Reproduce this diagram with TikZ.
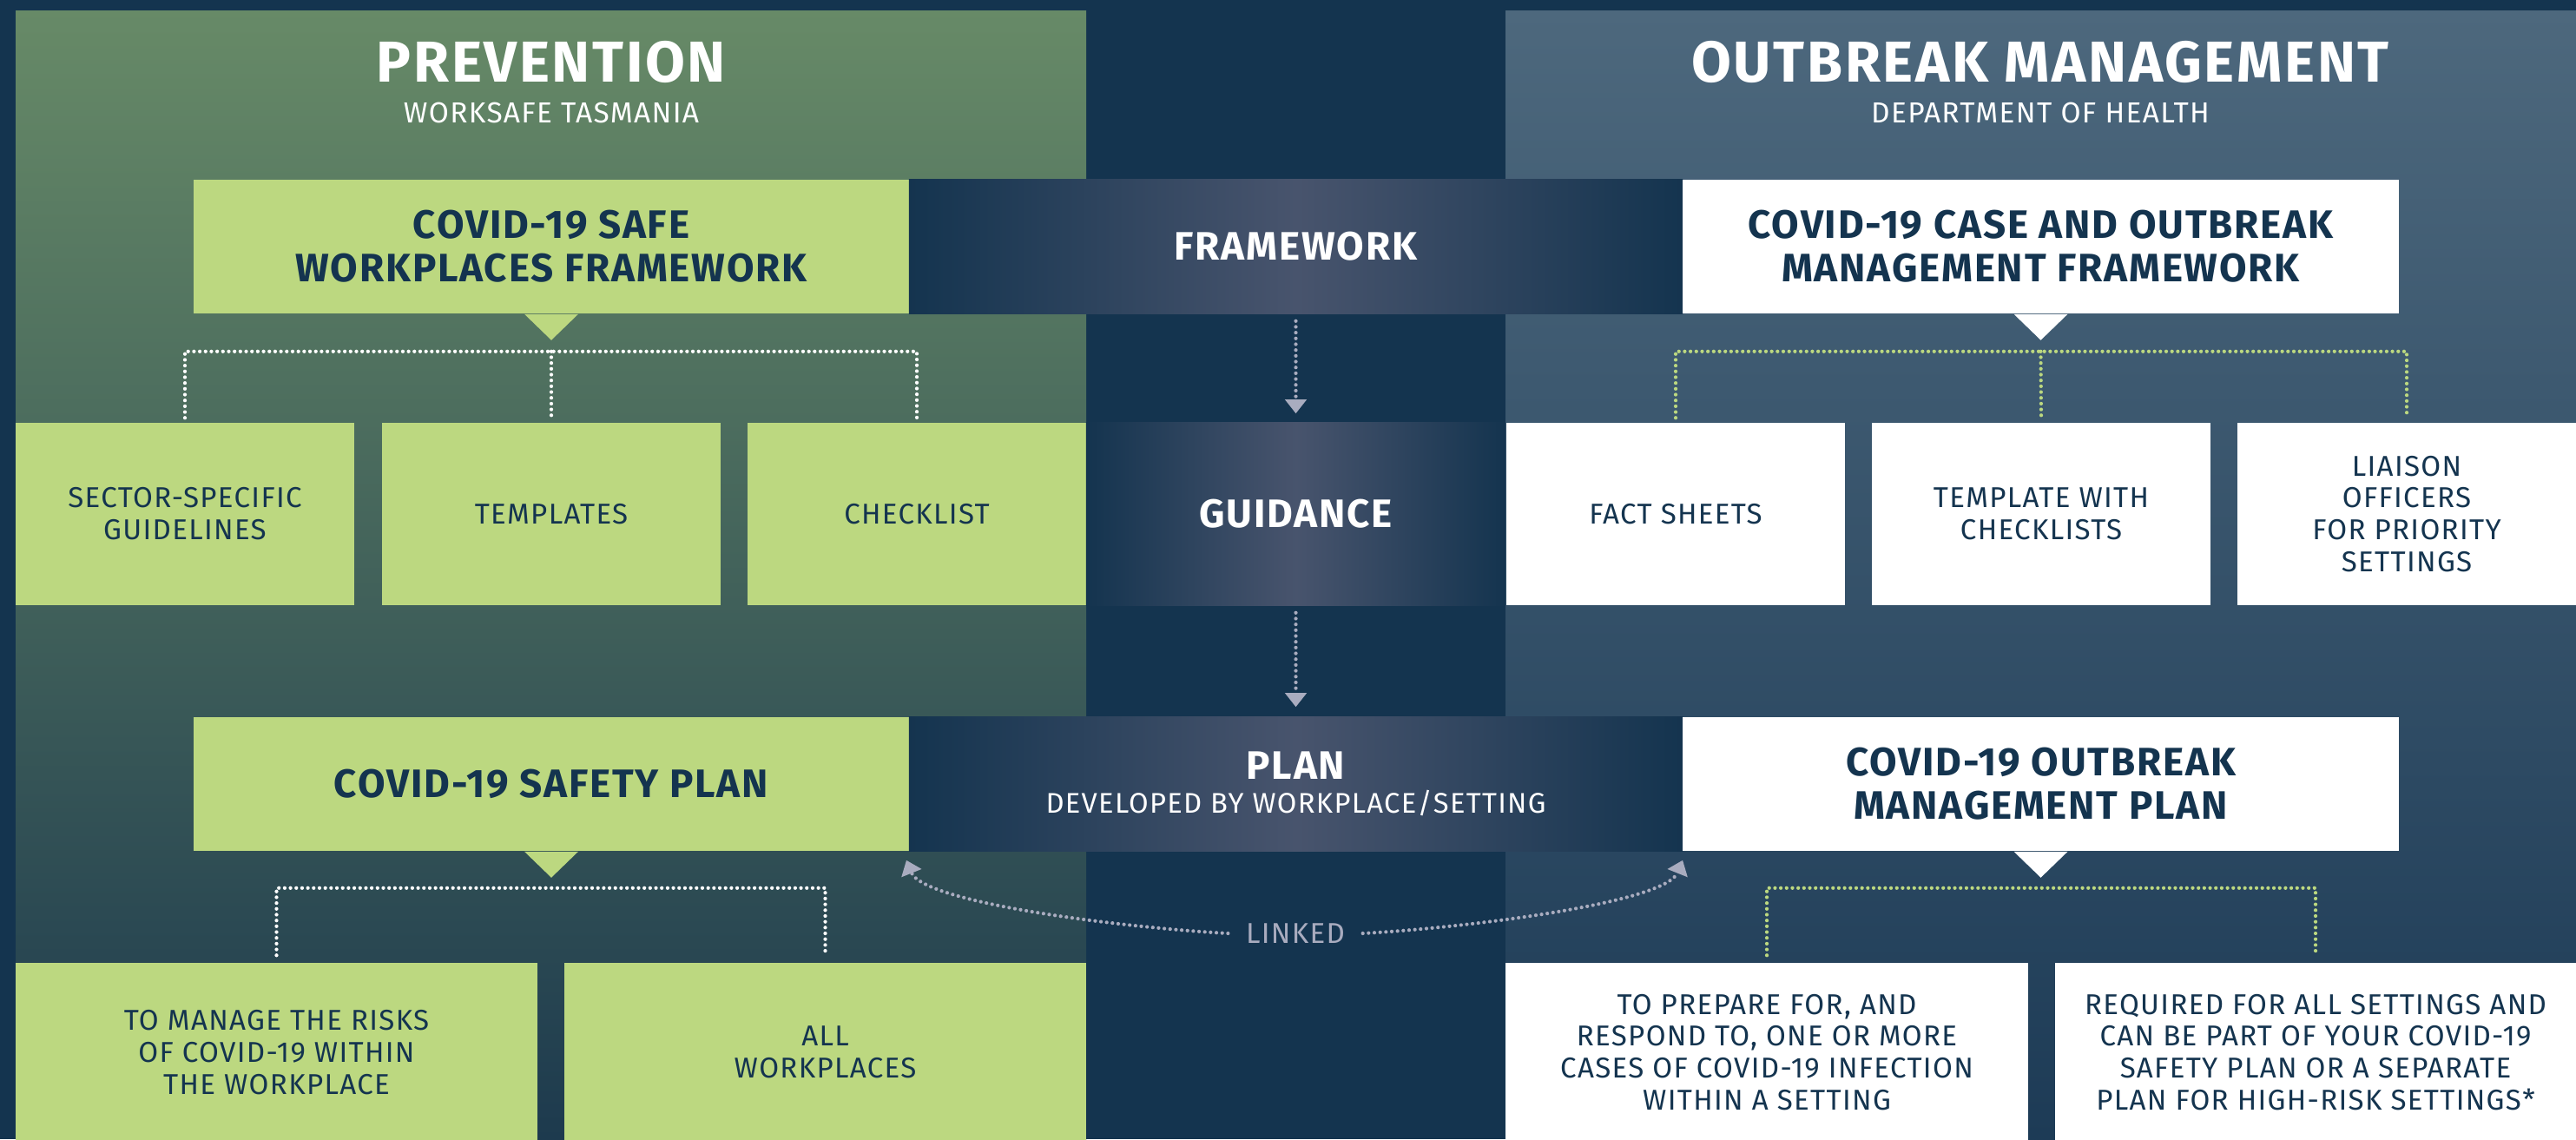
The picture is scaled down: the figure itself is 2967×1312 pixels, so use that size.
\documentclass[tikz,border=0pt]{standalone}
\usepackage{fontspec}
\setmainfont{Fira Sans}[LetterSpace=4]
\usetikzlibrary{arrows.meta}

\definecolor{navy}{HTML}{14344F}
\definecolor{lime}{HTML}{BCD880}
\definecolor{slate}{HTML}{48546D}
\definecolor{arrowgray}{HTML}{A9ACBF}
\definecolor{lefttop}{HTML}{678A67}
\definecolor{leftbot}{HTML}{1D3A4E}
\definecolor{righttop}{HTML}{4D687D}
\definecolor{rightbot}{HTML}{1D3B56}

\newcommand{\subfont}{\mdseries\fontsize{9.3}{10}\selectfont}

\tikzset{
  paneltitle/.style={anchor=base,inner sep=0pt,text=white,font=\bfseries\fontsize{18.9}{21}\selectfont},
  panelsub/.style={anchor=base,inner sep=0pt,text=white,font=\fontsize{9.5}{11}\selectfont},
  titlebox/.style={inner sep=0pt,align=center,minimum height=1.54cm,font=\bfseries\fontsize{13}{14.2}\selectfont},
  itembox/.style={inner sep=0pt,align=center,minimum width=3.9cm,minimum height=2.1cm,font=\fontsize{9.4}{10.5}\selectfont},
  greenbox/.style={fill=lime,text=navy},
  whitebox/.style={fill=white,text=navy},
  band/.style={left color=navy,right color=navy,middle color=slate,text=white},
  dots/.style={line width=1.2pt,line cap=round,dash pattern=on 0pt off 1.9pt},
  wdots/.style={dots,draw=white},
  gdots/.style={dots,draw=lime},
  flow/.style={dots,draw=arrowgray,-{Triangle[length=0.16cm,width=0.24cm]}},
}

\begin{document}
\begin{tikzpicture}[x=0.01cm,y=-0.01cm]
% Background and panels
\useasboundingbox (0,0) rectangle (2967,1312);
\fill[navy] (0,0) rectangle (2967,1312);
\shade[top color=lefttop,bottom color=leftbot] (18,12) rectangle (1251,1312);
\shade[top color=righttop,bottom color=rightbot] (1734,12) rectangle (2967,1312);

% Panel titles
\node[paneltitle] (prevt) at (635,94) {PREVENTION};
\node[panelsub] (prevs) at (635,141) {WORKSAFE TASMANIA};
\node[paneltitle] (outt) at (2350,94) {OUTBREAK MANAGEMENT};
\node[panelsub] (outs) at (2350,141) {DEPARTMENT OF HEALTH};

% Framework row
\node[titlebox,greenbox,minimum width=8.24cm] (sfw) at (635,284) {COVID-19 SAFE\\WORKPLACES FRAMEWORK};
\node[titlebox,band,minimum width=8.91cm] (fw) at (1492.5,284) {FRAMEWORK};
\node[titlebox,whitebox,minimum width=8.25cm] (cof) at (2350.5,284) {COVID-19 CASE AND OUTBREAK\\MANAGEMENT FRAMEWORK};

% Guidance row
\node[itembox,greenbox] (sec) at (213,592) {SECTOR-SPECIFIC\\GUIDELINES};
\node[itembox,greenbox] (tpl) at (635,592) {TEMPLATES};
\node[itembox,greenbox] (chk) at (1056,592) {CHECKLIST};
\node[titlebox,band,minimum width=4.83cm,minimum height=2.1cm] (gd) at (1492.5,592) {GUIDANCE};
\node[itembox,whitebox] (fs) at (1930,592) {FACT SHEETS};
\node[itembox,whitebox] (twc) at (2351,592) {TEMPLATE WITH\\CHECKLISTS};
\node[itembox,whitebox] (lo) at (2772,592) {LIAISON\\OFFICERS\\FOR PRIORITY\\SETTINGS};

% Plan row
\node[titlebox,greenbox,minimum width=8.24cm] (ssp) at (635,903) {COVID-19 SAFETY PLAN};
\node[titlebox,band,minimum width=8.91cm,text depth=0.04cm] (plan) at (1492.5,903) {PLAN\\[-3pt]{\subfont DEVELOPED BY WORKPLACE/SETTING}};
\node[titlebox,whitebox,minimum width=8.25cm] (omp) at (2350.5,903) {COVID-19 OUTBREAK\\MANAGEMENT PLAN};

% Bottom row
\node[itembox,greenbox,minimum width=6.01cm,minimum height=2.06cm] (risk) at (318.5,1212) {TO MANAGE THE RISKS\\OF COVID-19 WITHIN\\THE WORKPLACE};
\node[itembox,greenbox,minimum width=6.01cm,minimum height=2.06cm] (allw) at (950.5,1212) {ALL\\WORKPLACES};
\node[itembox,whitebox,minimum width=6.02cm,minimum height=2.06cm] (prep) at (2035,1212) {TO PREPARE FOR, AND\\RESPOND TO, ONE OR MORE\\CASES OF COVID-19 INFECTION\\WITHIN A SETTING};
\node[itembox,whitebox,minimum width=6.00cm,minimum height=2.06cm] (req) at (2667,1212) {REQUIRED FOR ALL SETTINGS AND\\CAN BE PART OF YOUR COVID-19\\SAFETY PLAN OR A SEPARATE\\PLAN FOR HIGH-RISK SETTINGS*};

% Pointers
\foreach \n/\c in {sfw/lime,cof/white,ssp/lime,omp/white}
  \fill[\c] ([xshift=-0.31cm]\n.south) -- ([xshift=0.31cm]\n.south) -- ([yshift=-0.3cm]\n.south) -- cycle;

% Dotted brackets
\coordinate (lbus) at ([yshift=-0.43cm]sfw.south);
\coordinate (rbus) at ([yshift=-0.43cm]cof.south);
\coordinate (lbus2) at ([yshift=-0.42cm]ssp.south);
\coordinate (rbus2) at ([yshift=-0.42cm]omp.south);
\draw[wdots] ([yshift=0.05cm]sec.north) |- (lbus) -| ([yshift=0.05cm]chk.north);
\draw[wdots] (lbus) -- ([yshift=0.05cm]tpl.north);
\draw[gdots] ([yshift=0.05cm]fs.north) |- (rbus) -| ([yshift=0.05cm]lo.north);
\draw[gdots] (rbus) -- ([yshift=0.05cm]twc.north);
\draw[wdots] ([yshift=0.08cm]risk.north) |- (lbus2) -| ([yshift=0.08cm]allw.north);
\draw[gdots] ([yshift=0.08cm]prep.north) |- (rbus2) -| ([yshift=0.08cm]req.north);

% Centre arrows
\draw[flow] ([yshift=-0.08cm]fw.south) -- ([yshift=0.1cm]gd.north);
\draw[flow] ([yshift=-0.08cm]gd.south) -- ([yshift=0.11cm]plan.north);

% Linked
\node[text=arrowgray,inner xsep=0.2cm,inner ysep=0pt,font=\fontsize{9.4}{10}\selectfont] (lnk) at (1492,1075) {LINKED};
\coordinate (lt) at ([xshift=-0.04cm,yshift=-0.1cm]ssp.south east);
\coordinate (rt) at ([xshift=0.01cm,yshift=-0.1cm]omp.south west);
\draw[flow] (lnk.west) .. controls +(-113,-6) and +(20,50) .. (lt);
\draw[flow] (lnk.east) .. controls +(113,-6) and +(-20,50) .. (rt);
\end{tikzpicture}
\end{document}
